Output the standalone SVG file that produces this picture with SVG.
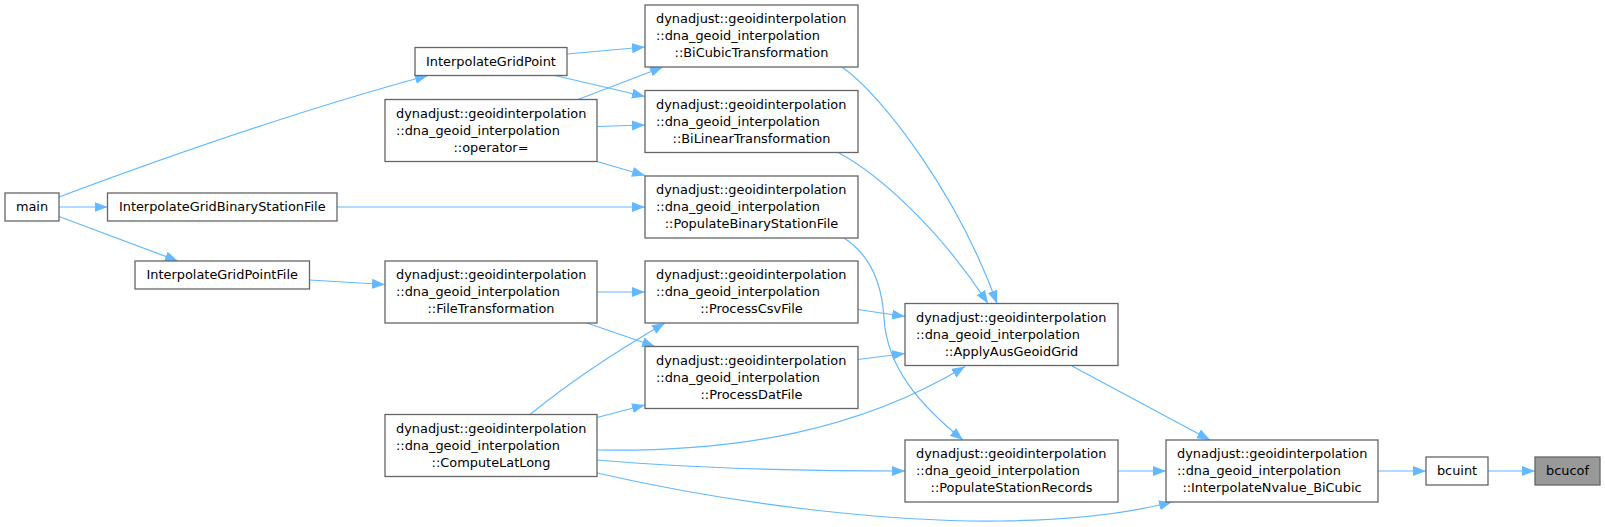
<svg xmlns="http://www.w3.org/2000/svg" width="1605" height="527" viewBox="0 0 1605 527">
<style>
.n rect{fill:#ffffff;stroke:#666666;stroke-width:1.3}
.n.f rect{fill:#999999}
.n text{font-family:"DejaVu Sans","Liberation Sans",sans-serif;font-size:12.9px;fill:#000000}
.c{text-anchor:middle}
.e path{fill:none;stroke:#63b8ff;stroke-width:1.2;marker-end:url(#a)}
</style>
<defs>
<marker id="a" markerUnits="userSpaceOnUse" markerWidth="14" markerHeight="11" refX="13" refY="5" orient="auto">
<path d="M0,0 L13,5 L0,10 z" fill="#63b8ff"/>
</marker>
</defs>
<rect width="1605" height="527" fill="#ffffff"/>
<g id="edges" class="e">
<path d="M1488,471 L1535,471"/>
<path d="M1378,471 L1426,471"/>
<path d="M1072,366 L1210,440"/>
<path d="M1118,471 L1166,471"/>
<path d="M597,473 C750,508 900,522 1000,521 C1080,520 1130,513 1172,502"/>
<path d="M597,460 C700,469 800,471 905,471"/>
<path d="M597,450 C740,452 860,430 965,366.5"/>
<path d="M597,417.5 L645,405"/>
<path d="M530,414.5 C560,390 610,355 665,323"/>
<path d="M597,292 L645,292"/>
<path d="M587,323 L655,346.5"/>
<path d="M309.5,280 L385,284.5"/>
<path d="M59,216.5 L178,261"/>
<path d="M59,207 L107.5,207"/>
<path d="M59,197 C150,163 300,110 428,75.5"/>
<path d="M337,207 L645,207"/>
<path d="M567,54 L645,47"/>
<path d="M555,75.5 L645,96.5"/>
<path d="M578,99.5 L663,67"/>
<path d="M597,126.5 L645,125"/>
<path d="M597,161.5 L645,175.5"/>
<path d="M842,67 C885,97 960,200 997,303.5"/>
<path d="M839,153 C880,175 940,230 988,303.5"/>
<path d="M844,238 C872,256 882,285 884,318 C887,368 920,405 963,440"/>
<path d="M858,309.5 L905,316.5"/>
<path d="M858,359.5 L905,353.5"/>
</g>
<g id="main" class="n"><rect x="5" y="193" width="54" height="28"/><text class="c" x="32" y="211.3">main</text></g>
<g id="InterpolateGridBinaryStationFile" class="n"><rect x="107.5" y="193" width="229.5" height="28"/><text class="c" x="222.25" y="211.3">InterpolateGridBinaryStationFile</text></g>
<g id="InterpolateGridPoint" class="n"><rect x="415" y="47.5" width="152" height="28"/><text class="c" x="491" y="65.8">InterpolateGridPoint</text></g>
<g id="InterpolateGridPointFile" class="n"><rect x="135" y="261" width="174.5" height="28"/><text class="c" x="222.25" y="279.3">InterpolateGridPointFile</text></g>
<g id="operator" class="n"><rect x="385" y="99.5" width="212" height="62"/><text x="396" y="117.8">dynadjust::geoidinterpolation</text><text x="396" y="134.8">::dna_geoid_interpolation</text><text class="c" x="491" y="151.8">::operator=</text></g>
<g id="FileTransformation" class="n"><rect x="385" y="261" width="212" height="62"/><text x="396" y="279.3">dynadjust::geoidinterpolation</text><text x="396" y="296.3">::dna_geoid_interpolation</text><text class="c" x="491" y="313.3">::FileTransformation</text></g>
<g id="ComputeLatLong" class="n"><rect x="385" y="414.5" width="212" height="62"/><text x="396" y="432.8">dynadjust::geoidinterpolation</text><text x="396" y="449.8">::dna_geoid_interpolation</text><text class="c" x="491" y="466.8">::ComputeLatLong</text></g>
<g id="BiCubicTransformation" class="n"><rect x="645" y="5" width="213" height="62"/><text x="656" y="23.3">dynadjust::geoidinterpolation</text><text x="656" y="40.3">::dna_geoid_interpolation</text><text class="c" x="751.5" y="57.3">::BiCubicTransformation</text></g>
<g id="BiLinearTransformation" class="n"><rect x="645" y="90.5" width="213" height="62"/><text x="656" y="108.8">dynadjust::geoidinterpolation</text><text x="656" y="125.8">::dna_geoid_interpolation</text><text class="c" x="751.5" y="142.8">::BiLinearTransformation</text></g>
<g id="PopulateBinaryStationFile" class="n"><rect x="645" y="176" width="213" height="62"/><text x="656" y="194.3">dynadjust::geoidinterpolation</text><text x="656" y="211.3">::dna_geoid_interpolation</text><text class="c" x="751.5" y="228.3">::PopulateBinaryStationFile</text></g>
<g id="ProcessCsvFile" class="n"><rect x="645" y="261" width="213" height="62"/><text x="656" y="279.3">dynadjust::geoidinterpolation</text><text x="656" y="296.3">::dna_geoid_interpolation</text><text class="c" x="751.5" y="313.3">::ProcessCsvFile</text></g>
<g id="ProcessDatFile" class="n"><rect x="645" y="346.5" width="213" height="62"/><text x="656" y="364.8">dynadjust::geoidinterpolation</text><text x="656" y="381.8">::dna_geoid_interpolation</text><text class="c" x="751.5" y="398.8">::ProcessDatFile</text></g>
<g id="ApplyAusGeoidGrid" class="n"><rect x="905" y="303.5" width="213" height="62"/><text x="916" y="321.8">dynadjust::geoidinterpolation</text><text x="916" y="338.8">::dna_geoid_interpolation</text><text class="c" x="1011.5" y="355.8">::ApplyAusGeoidGrid</text></g>
<g id="PopulateStationRecords" class="n"><rect x="905" y="440" width="213" height="62"/><text x="916" y="458.3">dynadjust::geoidinterpolation</text><text x="916" y="475.3">::dna_geoid_interpolation</text><text class="c" x="1011.5" y="492.3">::PopulateStationRecords</text></g>
<g id="InterpolateNvalue_BiCubic" class="n"><rect x="1166" y="440" width="212" height="62"/><text x="1177" y="458.3">dynadjust::geoidinterpolation</text><text x="1177" y="475.3">::dna_geoid_interpolation</text><text class="c" x="1272" y="492.3">::InterpolateNvalue_BiCubic</text></g>
<g id="bcuint" class="n"><rect x="1426" y="457" width="62" height="28"/><text class="c" x="1457" y="475.3">bcuint</text></g>
<g id="bcucof" class="n f"><rect x="1535" y="457" width="65" height="28"/><text class="c" x="1567.5" y="475.3">bcucof</text></g>
</svg>
